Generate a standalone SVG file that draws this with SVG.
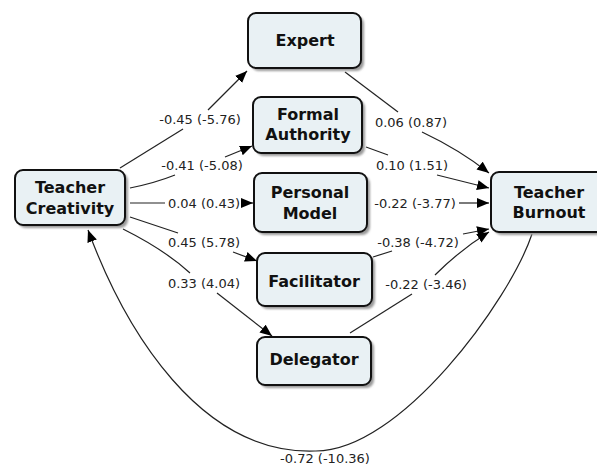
<svg xmlns="http://www.w3.org/2000/svg" width="597" height="466" viewBox="0 0 597 466">
<style>
.box{fill:#e9f1f4;stroke:#111;stroke-width:2}
.shd{fill:#9a9a9a;filter:url(#blur)}
.nt{font-family:"DejaVu Sans",Verdana,sans-serif;font-weight:bold;font-size:16px;fill:#111;text-anchor:middle}
.lb{font-family:"DejaVu Sans",Verdana,sans-serif;font-size:13px;fill:#222;text-anchor:middle}
.ln{fill:none;stroke:#222;stroke-width:1.2}
</style>
<defs>
<filter id="blur" x="-10%" y="-10%" width="120%" height="120%"><feGaussianBlur stdDeviation="1.2"/></filter>
<marker id="ah" markerUnits="userSpaceOnUse" markerWidth="13" markerHeight="11" refX="12" refY="5" orient="auto"><path d="M0,0 L12,5 L0,10 z" fill="#000"/></marker>
</defs>
<rect width="597" height="466" fill="#fff"/>
<g id="connectors">
<path class="ln" d="M120,168 L183,129"/>
<path class="ln" d="M208,110 L247,71" marker-end="url(#ah)"/>
<path class="ln" d="M130,188 Q155,183 175,175"/>
<path class="ln" d="M225,157 L252,146" marker-end="url(#ah)"/>
<path class="ln" d="M130,203 L165,203"/>
<path class="ln" d="M243,203 L253,203" marker-end="url(#ah)"/>
<path class="ln" d="M130,217 L178,233"/>
<path class="ln" d="M233,252 L257,261" marker-end="url(#ah)"/>
<path class="ln" d="M123,229 Q165,250 190,273"/>
<path class="ln" d="M217,293 L272,336" marker-end="url(#ah)"/>
<path class="ln" d="M345,72 L398,112"/>
<path class="ln" d="M422,132 Q460,150 489,173" marker-end="url(#ah)"/>
<path class="ln" d="M366,147 L388,155"/>
<path class="ln" d="M437,175 Q465,182 489,188" marker-end="url(#ah)"/>
<path class="ln" d="M459,203 L489,203" marker-end="url(#ah)"/>
<path class="ln" d="M373,257 L392,251"/>
<path class="ln" d="M463,234 L489,229" marker-end="url(#ah)"/>
<path class="ln" d="M350,333 L412,294"/>
<path class="ln" d="M435,275 Q460,250 489,232" marker-end="url(#ah)"/>
<path class="ln" d="M532,234 C510,300 400,452 315,451 C200,455 125,330 88,230" marker-end="url(#ah)"/>
<text class="lb" x="200" y="124">-0.45 (-5.76)</text>
<text class="lb" x="202" y="170">-0.41 (-5.08)</text>
<text class="lb" x="204" y="208">0.04 (0.43)</text>
<text class="lb" x="204" y="247">0.45 (5.78)</text>
<text class="lb" x="204" y="288">0.33 (4.04)</text>
<text class="lb" x="411" y="127">0.06 (0.87)</text>
<text class="lb" x="412" y="170">0.10 (1.51)</text>
<text class="lb" x="415" y="208">-0.22 (-3.77)</text>
<text class="lb" x="418" y="247">-0.38 (-4.72)</text>
<text class="lb" x="426" y="289">-0.22 (-3.46)</text>
<text class="lb" x="325" y="463">-0.72 (-10.36)</text>
</g>
<g id="teacher-creativity">
<rect class="shd" x="18" y="173" width="110" height="55" rx="8"/>
<rect class="box" x="15" y="170" width="110" height="55" rx="8"/>
<text class="nt" x="70" y="193">Teacher</text>
<text class="nt" x="70" y="214">Creativity</text>
</g>
<g id="expert">
<rect class="shd" x="251" y="16" width="113" height="55" rx="8"/>
<rect class="box" x="248" y="13" width="113" height="55" rx="8"/>
<text class="nt" x="305" y="46">Expert</text>
</g>
<g id="formal-authority">
<rect class="shd" x="256" y="100" width="109" height="56" rx="8"/>
<rect class="box" x="253" y="97" width="109" height="56" rx="8"/>
<text class="nt" x="308" y="120">Formal</text>
<text class="nt" x="308" y="140">Authority</text>
</g>
<g id="personal-model">
<rect class="shd" x="257" y="176" width="113" height="59" rx="8"/>
<rect class="box" x="254" y="173" width="113" height="59" rx="8"/>
<text class="nt" x="310" y="198">Personal</text>
<text class="nt" x="310" y="219">Model</text>
</g>
<g id="facilitator">
<rect class="shd" x="260" y="256" width="115" height="53" rx="8"/>
<rect class="box" x="257" y="253" width="115" height="53" rx="8"/>
<text class="nt" x="314" y="287">Facilitator</text>
</g>
<g id="delegator">
<rect class="shd" x="260" y="340" width="114" height="48" rx="8"/>
<rect class="box" x="257" y="337" width="114" height="48" rx="8"/>
<text class="nt" x="314" y="365">Delegator</text>
</g>
<g id="teacher-burnout">
<rect class="shd" x="494" y="175" width="116" height="60" rx="8"/>
<rect class="box" x="491" y="172" width="116" height="60" rx="8"/>
<text class="nt" x="549" y="198">Teacher</text>
<text class="nt" x="549" y="218">Burnout</text>
</g>
</svg>
